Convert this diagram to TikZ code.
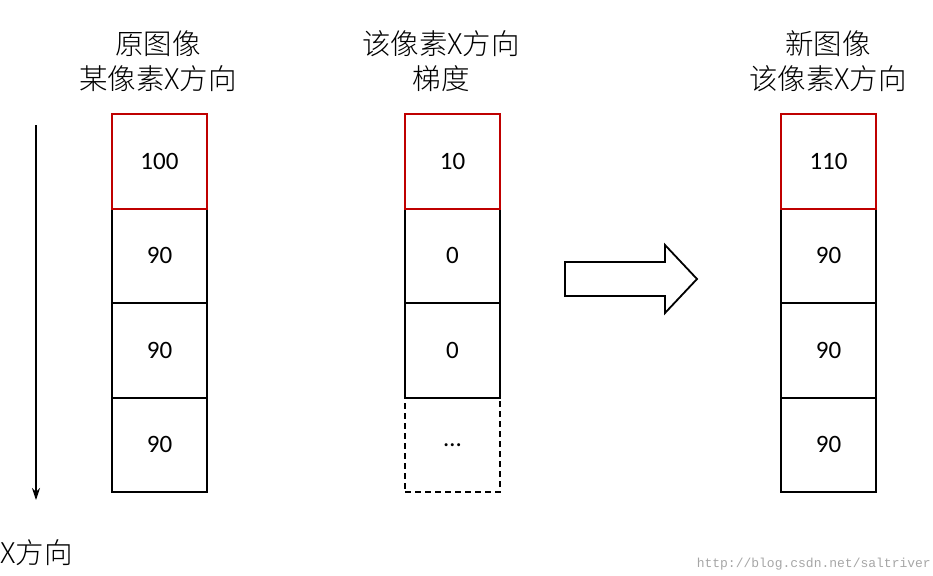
\documentclass[tikz,border=0pt]{standalone}
\usepackage{fontspec}
\usetikzlibrary{arrows.meta}
\setmainfont{Carlito}
\newfontfamily\cjk{Noto Sans CJK SC Light}
\setmonofont{Liberation Mono}
\begin{document}
\begin{tikzpicture}[x=1pt,y=-1pt,
  cell/.style={draw,line width=2pt,minimum width=95pt,minimum height=94.5pt,inner sep=0,font=\fontsize{25}{27}\selectfont,anchor=north west},
  redcell/.style={cell,draw=red!75!black},
  dcell/.style={cell,dash pattern=on 6pt off 4pt},
  ttl/.style={font=\cjk\fontsize{28.5}{35}\selectfont,align=center,inner sep=0}]
\useasboundingbox (0,0) rectangle (933,575);
\foreach \c/\x/\a/\b/\d/\e in {L/111/100/90/90/90, R/780/110/90/90/90}{
  \node[cell] (\c2) at (\x,207.5) {\b};
  \node[cell] (\c3) at (\x,302) {\d};
  \node[cell] (\c4) at (\x,396.5) {\e};
  \node[redcell] (\c1) at (\x,113) {\a};
}
\node[dcell] (M4) at (404,396.5) {\dots};
\node[cell] (M2) at (404,207.5) {0};
\node[cell] (M3) at (404,302) {0};
\node[redcell] (M1) at (404,113) {10};
\node[ttl] (tL) at (158,61) {原图像\\某像素X方向};
\node[ttl] (tM) at (441,61) {该像素X方向\\梯度};
\node[ttl] (tR) at (828,61) {新图像\\该像素X方向};
\coordinate (a1) at (36,125);
\coordinate (a2) at (36,500);
\draw[line width=1.4pt,-{Stealth[length=12pt,width=8pt]}] (a1) -- (a2);
\node[ttl,anchor=west] (xl) at (0,553) {X方向};
\draw[line width=1.8pt] (565,262) -- (665,262) -- (665,245) -- (697,279) -- (665,313) -- (665,296) -- (565,296) -- cycle;
\node[font=\ttfamily\fontsize{13}{14}\selectfont,text=gray!70,anchor=east,inner sep=0] (wm) at (931,564) {http://blog.csdn.net/saltriver};
\end{tikzpicture}
\end{document}
